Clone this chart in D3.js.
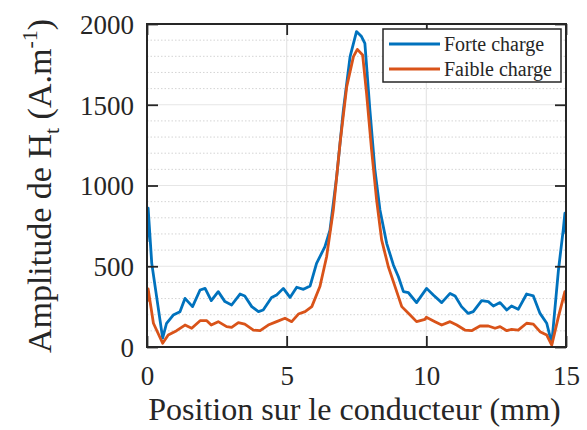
<!DOCTYPE html>
<html><head><meta charset="utf-8">
<script src="https://cdn.jsdelivr.net/npm/d3@7"></script>
<style>body{margin:0;background:#fff}svg{display:block}</style>
</head><body><div id="c"></div>
<script>
const xTicks = [0, 5, 10, 15];
const yTicks = [0, 500, 1000, 1500, 2000];
const seriesNames = ["Forte charge", "Faible charge"];
const seriesColors = ["#0072BD", "#D95319"];
const forteX = [0,0.04,0.17,0.56,0.7,0.94,1.18,1.36,1.63,1.9,2.08,2.3,2.55,2.79,3.03,3.33,3.5,3.75,3.99,4.16,4.46,4.64,4.88,5.12,5.36,5.6,5.84,6.07,6.37,6.55,6.79,7.03,7.27,7.5,7.68,7.8,7.98,8.16,8.34,8.58,8.82,9.0,9.18,9.36,9.65,10.01,10.25,10.55,10.85,11.03,11.26,11.5,11.68,11.98,12.22,12.4,12.64,12.88,13.05,13.29,13.59,13.83,14.07,14.31,14.49,14.73,14.9,14.96,15];
const forteY = [650,860,518,55,147,198,219,301,250,353,363,287,343,281,260,328,316,250,219,229,307,322,363,307,370,357,378,518,621,724,1055,1467,1798,1953,1922,1880,1467,1096,848,642,508,435,343,336,275,363,322,275,332,316,250,208,219,287,281,254,275,229,254,233,328,316,208,147,23,477,724,828,700];
const faibleX = [0,0.04,0.23,0.56,0.76,1.06,1.36,1.6,1.9,2.14,2.3,2.55,2.85,3.03,3.27,3.5,3.81,4.05,4.34,4.64,4.94,5.18,5.42,5.66,5.9,6.19,6.43,6.67,6.91,7.15,7.39,7.53,7.72,7.86,8.04,8.22,8.4,8.64,8.88,9.12,9.42,9.65,9.95,10.0,10.31,10.55,10.85,11.09,11.38,11.62,11.92,12.22,12.46,12.64,12.88,13.05,13.29,13.59,13.83,14.07,14.31,14.49,14.73,14.96,15];
const faibleY = [280,360,147,23,74,101,136,116,163,163,136,157,126,122,151,142,105,101,136,157,178,157,204,219,250,374,559,848,1261,1612,1798,1843,1808,1571,1220,910,663,497,374,250,198,157,171,184,157,136,157,136,105,101,130,130,116,126,101,109,105,147,142,95,74,12,188,343,270];

const FONT = "'Liberation Serif', 'Times New Roman', serif";
const W = 587, H = 430;
const m = {left: 147, right: 566, top: 24, bottom: 347};
const svg = d3.select("#c").append("svg").attr("width", W).attr("height", H)
  .style("font-family", FONT);
const x = d3.scaleLinear().domain([0, 15]).range([m.left, m.right]);
const y = d3.scaleLinear().domain([0, 2000]).range([m.bottom, m.top]);

// minor grid (dotted)
const minor = d3.range(100, 2000, 100).filter(v => v % 500 !== 0);
svg.append("g").selectAll("line").data(minor).join("line")
  .attr("x1", m.left).attr("x2", m.right)
  .attr("y1", d => y(d)).attr("y2", d => y(d))
  .attr("stroke", "#d4d4d4").attr("stroke-width", 1).attr("stroke-dasharray", "1.5,2");
// major grid
svg.append("g").selectAll("line").data(yTicks.slice(1, -1)).join("line")
  .attr("x1", m.left).attr("x2", m.right)
  .attr("y1", d => y(d)).attr("y2", d => y(d))
  .attr("stroke", "#e6e6e6").attr("stroke-width", 1.2);
svg.append("g").selectAll("line").data(xTicks.slice(1, -1)).join("line")
  .attr("y1", m.top).attr("y2", m.bottom)
  .attr("x1", d => x(d)).attr("x2", d => x(d))
  .attr("stroke", "#e6e6e6").attr("stroke-width", 1.2);

// lines
svg.append("clipPath").attr("id", "clip").append("rect")
  .attr("x", m.left).attr("y", m.top).attr("width", m.right - m.left).attr("height", m.bottom - m.top);
const line = d3.line().x(d => x(d[0])).y(d => y(d[1]));
const series = [d3.zip(forteX, forteY), d3.zip(faibleX, faibleY)];
series.forEach((s, i) => {
  svg.append("path").datum(s).attr("d", line).attr("fill", "none")
    .attr("stroke", seriesColors[i]).attr("stroke-width", 2.8)
    .attr("stroke-linejoin", "round").attr("clip-path", "url(#clip)");
});

// axes (inward ticks, box)
const tl = 11;
const fmt = d3.format("d");
const axB = svg.append("g").attr("transform", `translate(0,${m.bottom})`)
  .call(d3.axisBottom(x).tickValues(xTicks).tickFormat(fmt).tickSizeInner(-tl).tickSizeOuter(0).tickPadding(19));
const axT = svg.append("g").attr("transform", `translate(0,${m.top})`)
  .call(d3.axisTop(x).tickValues(xTicks).tickSizeInner(-tl).tickSizeOuter(0).tickFormat(""));
const axL = svg.append("g").attr("transform", `translate(${m.left},0)`)
  .call(d3.axisLeft(y).tickValues(yTicks).tickFormat(fmt).tickSizeInner(-tl).tickSizeOuter(0).tickPadding(13));
const axR = svg.append("g").attr("transform", `translate(${m.right},0)`)
  .call(d3.axisRight(y).tickValues(yTicks).tickSizeInner(-tl).tickSizeOuter(0).tickFormat(""));
[axB, axT, axL, axR].forEach(a => {
  a.attr("font-family", null).attr("font-size", null);
  a.select(".domain").remove();
  a.selectAll("line").attr("stroke", "#262626").attr("stroke-width", 1.8);
  a.selectAll("text").style("font-family", FONT).style("font-size", "27px").attr("fill", "#262626");
});
axB.selectAll("text").attr("dy", "0.71em");
axL.selectAll("text").attr("dy", "0.35em");
svg.append("rect").attr("x", m.left).attr("y", m.top).attr("width", m.right - m.left).attr("height", m.bottom - m.top)
  .attr("fill", "none").attr("stroke", "#262626").attr("stroke-width", 2);

// axis labels
svg.append("text").attr("x", (m.left + m.right) / 2 - 2).attr("y", 420).attr("text-anchor", "middle")
  .style("font-family", FONT).style("font-size", "32px").attr("fill", "#262626")
  .text("Position sur le conducteur (mm)");
const yl = svg.append("text").attr("transform", `translate(51,186) rotate(-90)`)
  .attr("text-anchor", "middle").style("font-family", FONT).style("font-size", "34px").attr("fill", "#262626");
yl.append("tspan").text("Amplitude de H");
yl.append("tspan").style("font-size", "22px").attr("dy", 8).text("t");
yl.append("tspan").attr("dy", -8).text(" (A.m");
yl.append("tspan").style("font-size", "22px").attr("dy", -14).text("-1");
yl.append("tspan").attr("dy", 14).text(")");

// legend
const lg = svg.append("g");
lg.append("rect").attr("x", 383).attr("y", 29).attr("width", 178).attr("height", 53)
  .attr("fill", "#fff").attr("stroke", "#262626").attr("stroke-width", 1.5);
seriesNames.forEach((n, i) => {
  const cy = 44 + i * 25;
  lg.append("line").attr("x1", 389).attr("x2", 440).attr("y1", cy).attr("y2", cy)
    .attr("stroke", seriesColors[i]).attr("stroke-width", 2.8);
  lg.append("text").attr("x", 444).attr("y", cy).attr("dy", "0.35em")
    .style("font-family", FONT).style("font-size", "20px").attr("fill", "#262626").text(n);
});
</script></body></html>
